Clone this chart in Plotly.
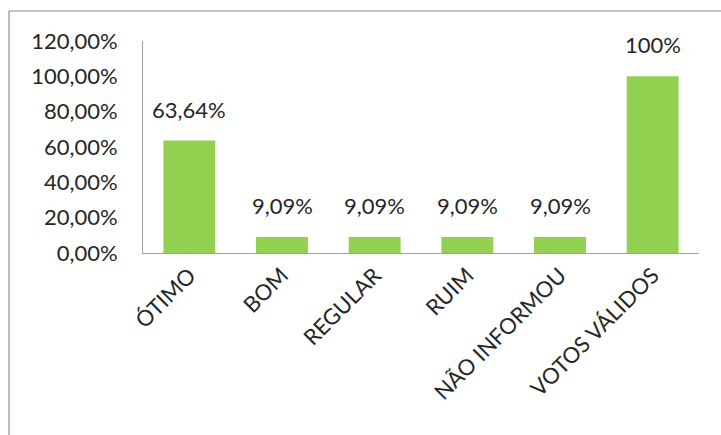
import plotly.graph_objects as go

categories = ["ÓTIMO", "BOM", "REGULAR", "RUIM", "NÃO INFORMOU", "VOTOS VÁLIDOS"]
values = [63.64, 9.09, 9.09, 9.09, 9.09, 100]
value_labels = ["63,64%", "9,09%", "9,09%", "9,09%", "9,09%", "100%"]
tick_vals = [0, 20, 40, 60, 80, 100, 120]
tick_text = ["0,00%", "20,00%", "40,00%", "60,00%", "80,00%", "100,00%", "120,00%"]

W, H = 721, 435
ml, mr, mt, mb = 143, 22, 41, 182
pw = W - ml - mr
ph = H - mt - mb

fig = go.Figure(go.Bar(
    x=categories, y=values,
    marker=dict(color="#92D050", line=dict(width=0)),
    cliponaxis=False, hoverinfo="skip",
))

for c, v, t in zip(categories, values, value_labels):
    fig.add_annotation(x=c, y=v, text=t, showarrow=False, yanchor="bottom",
                       yshift=16, font=dict(size=22, color="#262626"))

font = "Lato, 'Open Sans', sans-serif"
fig.update_layout(
    width=W, height=H, margin=dict(l=ml, r=mr, t=mt, b=mb, autoexpand=False),
    paper_bgcolor="white", plot_bgcolor="white",
    font=dict(family=font, size=22, color="#262626"),
    bargap=0.44, showlegend=False,
    xaxis=dict(tickangle=-45, showline=True, linecolor="#A0A0A0", linewidth=1,
               ticks="", showgrid=False, tickfont=dict(size=22), automargin=False),
    yaxis=dict(range=[0, 120], tickvals=tick_vals, ticktext=tick_text,
               showline=True, linecolor="#A0A0A0", linewidth=1, ticks="",
               showgrid=False, zeroline=False, ticklabelstandoff=20,
               automargin=False),
)

def px2x(p):
    return (p - ml) / pw

def py2y(p):
    return 1 - (p - mt) / ph

fig.add_shape(type="line", xref="paper", yref="paper",
              x0=px2x(9), x1=px2x(W + 5), y0=py2y(11), y1=py2y(11),
              line=dict(color="#8C8C8C", width=1.2))
fig.add_shape(type="line", xref="paper", yref="paper",
              x0=px2x(9), x1=px2x(9), y0=py2y(11), y1=py2y(H + 5),
              line=dict(color="#8C8C8C", width=1.2))

fig.write_html("out.html", config={"displayModeBar": False},
               post_script="document.body.style.margin='0px';document.body.style.overflow='hidden';")
